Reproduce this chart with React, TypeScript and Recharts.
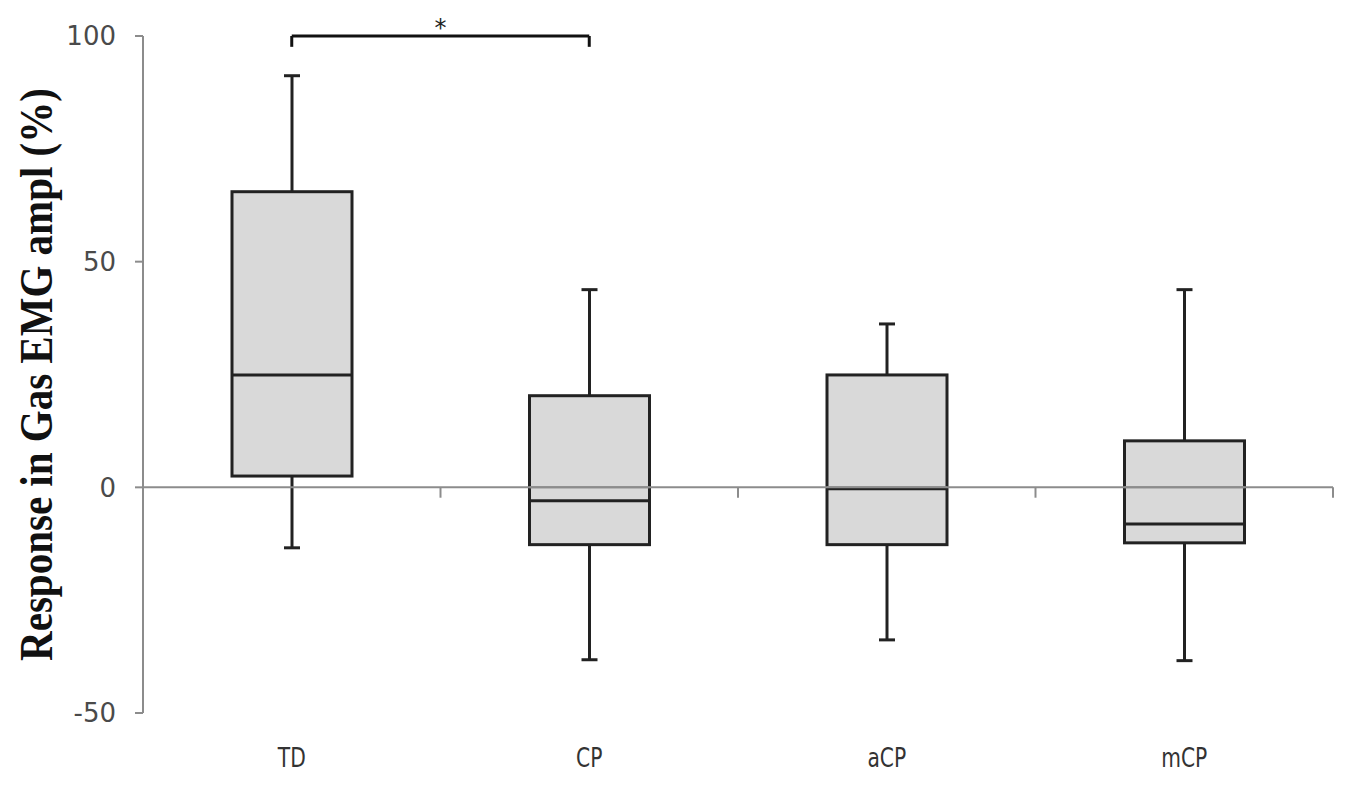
import React from 'react';
import { ComposedChart, Bar, XAxis, YAxis, ReferenceLine, Label } from 'recharts';

// group statistics (% change)
const groups = ['TD', 'CP', 'aCP', 'mCP'];
const whiskerLow = [-13.4, -38.2, -33.8, -38.4];
const quartile1 = [2.5, -12.7, -12.7, -12.3];
const medians = [24.9, -3.0, -0.3, -8.1];
const quartile3 = [65.5, 20.3, 24.9, 10.3];
const whiskerHigh = [91.2, 43.8, 36.2, 43.8];

const yTicks = [-50, 0, 50, 100];
// significance bracket between TD and CP
const sigFrom = 'TD';
const sigTo = 'CP';
const sigLevel = 100;
const sigDrop = 2.4;
const edgeDrop = 2.3;

const data = groups.map((name, i) => ({
  name,
  box: [quartile1[i], quartile3[i]],
  min: whiskerLow[i],
  q1: quartile1[i],
  median: medians[i],
  q3: quartile3[i],
  max: whiskerHigh[i],
}));

const INK = '#222';
const AXIS = '#8c8c8c';

function BoxShape(props: any) {
  const { x, y, width, height, payload } = props;
  if (!payload) return null;
  const top = Math.min(y, y + height);
  const h = Math.abs(height);
  const ppu = h / (payload.q3 - payload.q1);
  const toPx = (v: number) => top + (payload.q3 - v) * ppu;
  const cx = x + width / 2;
  const cap = 8;
  const yMax = toPx(payload.max);
  const yMin = toPx(payload.min);
  const yMed = toPx(payload.median);
  const yZero = toPx(0);
  const yQ1 = top + h;
  const zeroInside = payload.q1 < 0 && payload.q3 > 0;
  return (
    <g>
      <line x1={cx} x2={cx} y1={yMax} y2={top} stroke={INK} strokeWidth={3} />
      <line x1={cx - cap} x2={cx + cap} y1={yMax} y2={yMax} stroke={INK} strokeWidth={3} />
      <line x1={cx} x2={cx} y1={yQ1} y2={yMin} stroke={INK} strokeWidth={3} />
      <line x1={cx - cap} x2={cx + cap} y1={yMin} y2={yMin} stroke={INK} strokeWidth={3} />
      <rect x={x} y={top} width={width} height={h} fill="#d9d9d9" stroke={INK} strokeWidth={3} />
      {zeroInside && <line x1={x} x2={x + width} y1={yZero} y2={yZero} stroke={AXIS} strokeWidth={2} />}
      <line x1={x} x2={x + width} y1={yMed} y2={yMed} stroke={INK} strokeWidth={3} />
    </g>
  );
}

function GroupTick(props: any) {
  const { x, y, payload } = props;
  return (
    <g transform={`translate(${x},${y + 54})`}>
      <text
        textAnchor="middle"
        transform="scale(0.75,1)"
        fill="#333"
        fontSize={27}
        fontFamily="DejaVu Sans"
      >
        {payload.value}
      </text>
    </g>
  );
}

function YTitle(props: any) {
  const { viewBox } = props;
  const cy = viewBox.y + viewBox.height / 2;
  const cx = viewBox.x + 52;
  return (
    <text
      transform={`translate(${cx},${cy}) rotate(-90) scale(1,1.15)`}
      textAnchor="middle"
      fontFamily="Liberation Serif"
      fontWeight="bold"
      fontSize={41}
      fill="#111"
    >
      Response in Gas EMG ampl (%)
    </text>
  );
}

export default function App() {
  return (
    <div style={{ width: 1350, height: 793, background: '#fff' }}>
      <style>{'body{margin:0}'}</style>
      <ComposedChart
        width={1350}
        height={793}
        data={data}
        margin={{ top: 36, right: 17, bottom: 0, left: 0 }}
      >
        <XAxis
          dataKey="name"
          height={80}
          axisLine={false}
          tickLine={false}
          tickSize={0}
          tickMargin={0}
          interval={0}
          tick={<GroupTick />}
        />
        <YAxis
          domain={[-50, 100]}
          ticks={yTicks}
          width={143}
          axisLine={{ stroke: AXIS, strokeWidth: 2 }}
          tickLine={{ stroke: AXIS, strokeWidth: 2 }}
          tickSize={8}
          tickMargin={19}
          tick={{ fill: '#4a4a4a', fontSize: 26, fontFamily: 'DejaVu Sans' }}
        >
          <Label content={YTitle} />
        </YAxis>
        <ReferenceLine y={0} stroke={AXIS} strokeWidth={2} />
        {groups.map((g) => (
          <ReferenceLine
            key={g}
            segment={[{ x: g, y: 0 }, { x: g, y: -edgeDrop }]}
            position="end"
            stroke={AXIS}
            strokeWidth={2}
            ifOverflow="visible"
          />
        ))}
        <Bar dataKey="box" barSize={120} shape={BoxShape} isAnimationActive={false} />
        <ReferenceLine
          segment={[{ x: sigFrom, y: sigLevel }, { x: sigTo, y: sigLevel }]}
          stroke="#111"
          strokeWidth={3}
          ifOverflow="visible"
          label={{ value: '*', position: 'top', fill: '#222', fontSize: 24, fontFamily: 'DejaVu Sans', offset: 0 }}
        />
        <ReferenceLine
          segment={[{ x: sigFrom, y: sigLevel }, { x: sigFrom, y: sigLevel - sigDrop }]}
          stroke="#111"
          strokeWidth={3}
          ifOverflow="visible"
        />
        <ReferenceLine
          segment={[{ x: sigTo, y: sigLevel }, { x: sigTo, y: sigLevel - sigDrop }]}
          stroke="#111"
          strokeWidth={3}
          ifOverflow="visible"
        />
      </ComposedChart>
    </div>
  );
}
